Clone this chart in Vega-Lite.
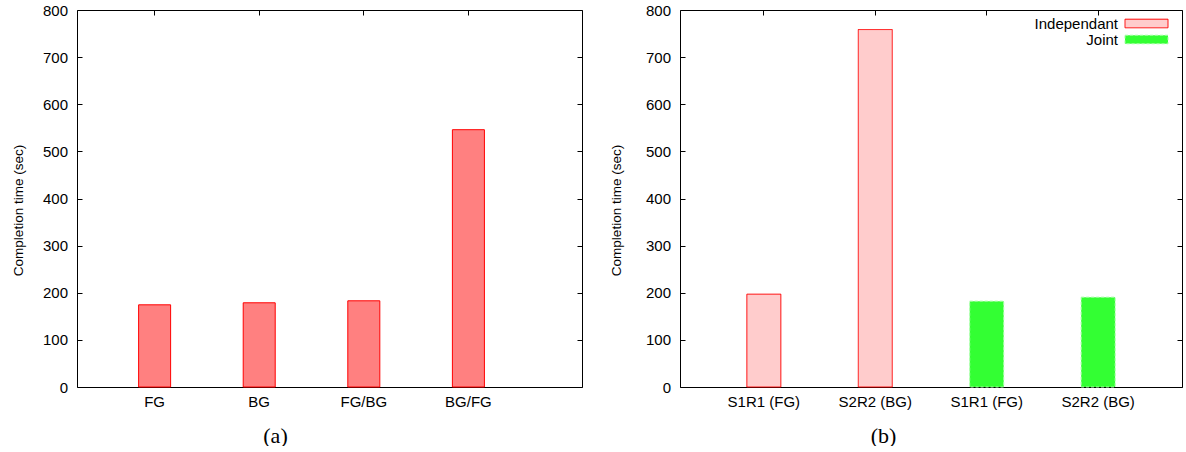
{
  "$schema": "https://vega.github.io/schema/vega-lite/v6.json",
  "padding": {"left": 11, "top": 3, "right": 0, "bottom": 0},
  "background": "white",
  "config": {
    "font": "Liberation Sans",
    "view": {"stroke": null},
    "axis": {
      "domainColor": "#000",
      "domainWidth": 1,
      "tickColor": "#000",
      "tickWidth": 1,
      "tickSize": -5,
      "labelColor": "#000",
      "labelFontSize": 15,
      "labelFont": "Liberation Sans",
      "titleColor": "#000",
      "titleFontWeight": "normal",
      "grid": false
    }
  },
  "bounds": "flush",
  "spacing": 98,
  "hconcat": [
    {
      "width": 505,
      "height": 377,
      "data": {"values": [
        {"config": "FG", "time": 174.4},
        {"config": "BG", "time": 178.7},
        {"config": "FG/BG", "time": 182.9},
        {"config": "BG/FG", "time": 546}
      ]},
      "layer": [
        {
          "mark": {"type": "bar", "fill": "#ff8080", "stroke": "#ff0000", "strokeWidth": 1},
          "encoding": {
            "x": {"field": "config", "type": "nominal", "sort": null,
              "scale": {"paddingInner": 0.694, "paddingOuter": 0.761, "align": 0.387},
              "axis": {"orient": "bottom", "labelAngle": 0, "labelPadding": 12,
                "title": "(a)", "titleFont": "Liberation Serif", "titleFontSize": 22,
                "titleX": 198, "titleY": 55, "titleAlign": "center", "titleBaseline": "alphabetic"}},
            "y": {"field": "time", "type": "quantitative",
              "scale": {"domain": [0, 800], "nice": false},
              "axis": {"orient": "left", "values": [0,100,200,300,400,500,600,700,800], "labelPadding": 14.5,
                "title": "Completion time (sec)", "titleFontSize": 13.5, "titleFont": "Liberation Sans",
                "titleX": -59, "titleY": 200, "titleAngle": 270, "titleAlign": "center", "titleBaseline": "middle"}}
          }
        },
        {
          "mark": {"type": "bar", "opacity": 0},
          "encoding": {
            "x": {"field": "config", "type": "nominal", "sort": null,
              "axis": {"orient": "top", "labels": false, "title": null}},
            "y": {"field": "time", "type": "quantitative",
              "axis": {"orient": "right", "labels": false, "title": null, "values": [0,100,200,300,400,500,600,700,800]}}
          }
        }
      ],
      "resolve": {"axis": {"x": "independent", "y": "independent"}}
    },
    {
      "width": 502,
      "height": 377,
      "data": {"values": [
        {"slot": "Independant|S1R1 (FG)", "run": "S1R1 (FG)", "group": "Independant", "time": 197},
        {"slot": "Independant|S2R2 (BG)", "run": "S2R2 (BG)", "group": "Independant", "time": 758.5},
        {"slot": "Joint|S1R1 (FG)", "run": "S1R1 (FG)", "group": "Joint", "time": 182.2},
        {"slot": "Joint|S2R2 (BG)", "run": "S2R2 (BG)", "group": "Joint", "time": 190.7}
      ]},
      "layer": [
        {
          "mark": {"type": "bar", "strokeWidth": 1},
          "encoding": {
            "x": {"field": "slot", "type": "nominal", "sort": null,
              "scale": {"paddingInner": 0.695, "paddingOuter": 0.6, "align": 0.5},
              "axis": {"orient": "bottom", "labelAngle": 0, "labelPadding": 12,
                "labelExpr": "split(datum.label, '|')[1]",
                "title": "(b)", "titleFont": "Liberation Serif", "titleFontSize": 22,
                "titleX": 203, "titleY": 55, "titleAlign": "center", "titleBaseline": "alphabetic"}},
            "y": {"field": "time", "type": "quantitative",
              "scale": {"domain": [0, 800], "nice": false},
              "axis": {"orient": "left", "values": [0,100,200,300,400,500,600,700,800], "labelPadding": 14.5,
                "title": "Completion time (sec)", "titleFontSize": 13.5, "titleFont": "Liberation Sans",
                "titleX": -63.5, "titleY": 200, "titleAngle": 270, "titleAlign": "center", "titleBaseline": "middle"}},
            "color": {"field": "group", "type": "nominal",
              "scale": {"domain": ["Independant", "Joint"], "range": ["#ffcccc", "#33ff33"]},
              "legend": {"orient": "none", "legendX": 1062, "legendY": 6, "title": null,
                "symbolType": "M-4,-0.8H4V0.8H-4Z", "symbolSize": 115.6, "symbolStrokeWidth": 1,
                "labelAlign": "right", "labelOffset": -36, "labelFontSize": 15, "labelColor": "#000",
                "rowPadding": -1, "padding": 0}},
            "stroke": {"field": "group", "type": "nominal",
              "scale": {"domain": ["Independant", "Joint"], "range": ["#ff0000", "#a8ffa8"]}},
            "strokeDash": {"field": "group", "type": "nominal",
              "scale": {"domain": ["Independant", "Joint"], "range": [[1, 0], [3, 2]]}}
          }
        },
        {
          "mark": {"type": "bar", "opacity": 0},
          "encoding": {
            "x": {"field": "slot", "type": "nominal", "sort": null,
              "axis": {"orient": "top", "labels": false, "title": null}},
            "y": {"field": "time", "type": "quantitative",
              "axis": {"orient": "right", "labels": false, "title": null, "values": [0,100,200,300,400,500,600,700,800]}}
          }
        }
      ],
      "resolve": {"axis": {"x": "independent", "y": "independent"}}
    }
  ]
}
